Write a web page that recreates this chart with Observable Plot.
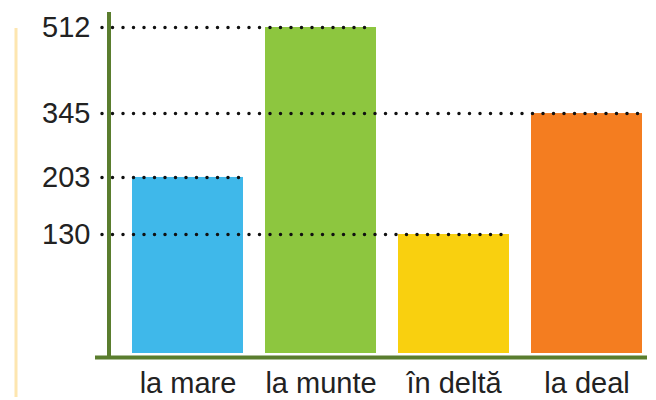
<!DOCTYPE html>
<html><head><meta charset="utf-8">
<script src="https://cdn.jsdelivr.net/npm/d3@7"></script>
<script src="https://cdn.jsdelivr.net/npm/@observablehq/plot@0.6"></script>
<style>body{margin:0;background:#fff} svg text{font-family:'Liberation Sans',Arial,sans-serif}</style>
</head><body><div id="chart"></div>
<script>
const categories = ["la mare", "la munte", "în deltă", "la deal"];
const values = [203, 512, 130, 345];
const colors = ["#3fb8ea", "#8dc63f", "#f9d00f", "#f47d20"];
const tickValues = [130, 203, 345, 512];
// the picture's value axis is not to scale: spacing of the tick levels as drawn
const axisLevels = [0, 130, 203, 345, 512];
const axisSpacing = [0, 0.365, 0.54, 0.736, 1];

const data = categories.map((c, i) => ({cat: c, v: values[i], color: colors[i]}));
const warp = d3.scaleLinear().domain(axisLevels).range(axisSpacing);
const FONT = "'Liberation Sans', Arial, sans-serif";

const chart = Plot.plot({
  width: 656, height: 400,
  marginLeft: 130, marginRight: 12, marginTop: 27, marginBottom: 47,
  style: {fontFamily: FONT, background: "#fff"},
  x: {domain: categories, paddingInner: 0.164, paddingOuter: 0},
  y: {transform: warp, domain: [0, 1]},
  marks: [
    Plot.barY(data, {x: "cat", y: "v", fill: "color"}),
    Plot.ruleY(data, {y: "v", x1: () => categories[0], x2: "cat", stroke: "#111", strokeWidth: 3.5,
      strokeDasharray: "0 10.5", strokeLinecap: "round", insetLeft: -30, insetRight: 2}),
    Plot.ruleX([0], {x: () => categories[0], y1: 512, y2: 0, dx: -172, insetTop: 1, insetBottom: -44, stroke: "#fde6b0", strokeWidth: 3}),
    Plot.ruleX([0], {x: () => categories[0], y1: 512, y2: 0, dx: -79, insetTop: -15, insetBottom: -5, stroke: "#5a7d2e", strokeWidth: 4}),
    Plot.ruleY([0], {dy: 4, insetLeft: -35, insetRight: -3, stroke: "#5a7d2e", strokeWidth: 4}),
    Plot.axisY({ticks: tickValues.map(warp), tickFormat: d => String(Math.round(warp.invert(d))),
      tickSize: 0, tickPadding: 40, fontSize: 29, color: "#222", label: null}),
    Plot.axisX({tickSize: 0, tickPadding: 19, fontSize: 29, color: "#222", label: null})
  ]
});
document.getElementById("chart").append(chart);
</script>
</body></html>
